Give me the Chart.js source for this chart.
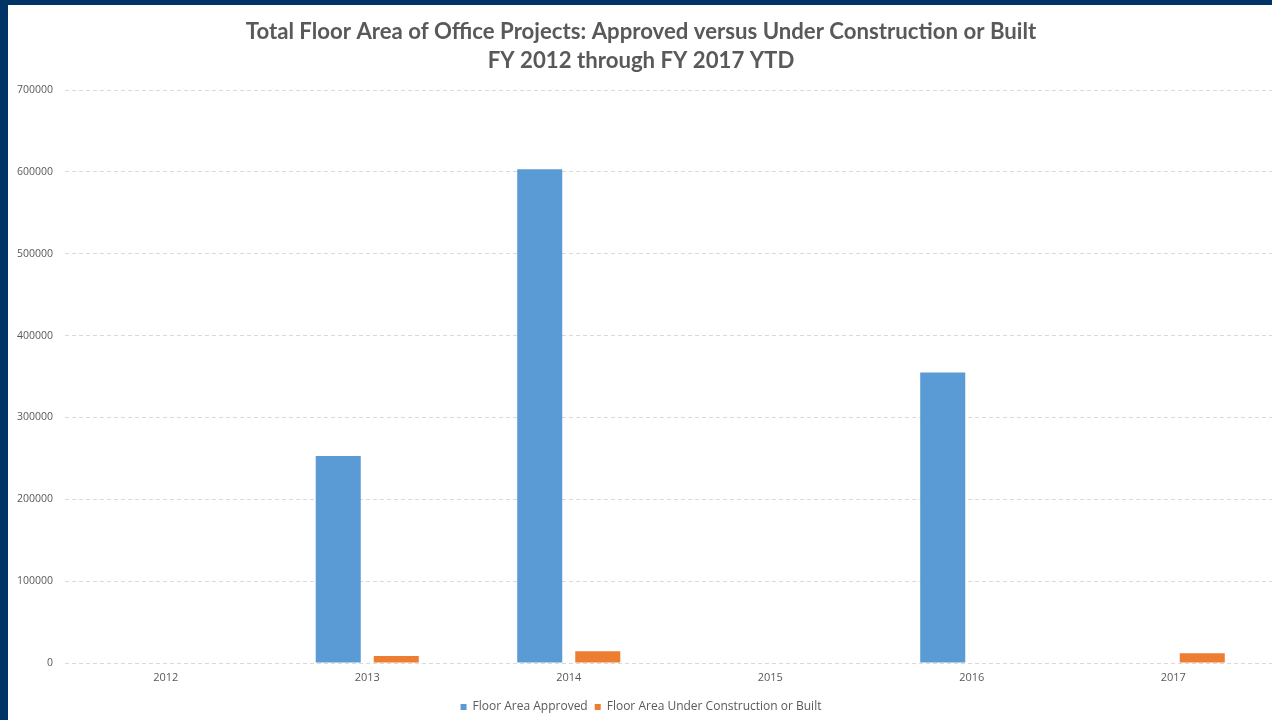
<!DOCTYPE html>
<html>
<head>
<meta charset="utf-8">
<script src="https://cdn.jsdelivr.net/npm/chart.js@4"></script>
<style>
html,body{margin:0;padding:0;width:1272px;height:720px;overflow:hidden;background:#003366;}
#wrap{position:absolute;left:8px;top:5px;width:1266px;height:715px;background:#fff;}
</style>
</head>
<body>
<div id="wrap"><canvas id="c"></canvas></div>
<script>
const categories = ['2012','2013','2014','2015','2016','2017'];
const approved = [0, 253000, 603500, 0, 355000, 0];
const underConstruction = [0, 8500, 14500, 0, 0, 12000];
const titleLines = ['Total Floor Area of Office Projects: Approved versus Under Construction or Built','FY 2012 through FY 2017 YTD'];
const seriesNames = ['Floor Area Approved','Floor Area Under Construction or Built'];

const grey = '#595959';
new Chart(document.getElementById('c'), {
  type: 'bar',
  data: {
    labels: categories,
    datasets: [
      {label: seriesNames[0], data: approved, backgroundColor: '#5b9bd5', barPercentage: 0.776, categoryPercentage: 0.576},
      {label: seriesNames[1], data: underConstruction, backgroundColor: '#ed7d31', barPercentage: 0.776, categoryPercentage: 0.576}
    ]
  },
  options: {
    responsive: true,
    maintainAspectRatio: false,
    animation: false,
    layout: {padding: {left: 0, right: 0, top: 0, bottom: -3}},
    plugins: {
      title: {display: true, text: titleLines, color: grey, font: {family: 'Lato', size: 22.2, weight: 'bold', lineHeight: 1.31}, padding: {top: 12.5, bottom: 14.5}},
      legend: {position: 'bottom', labels: {color: grey, boxWidth: 6, boxHeight: 6, padding: 7, font: {family: 'Open Sans', size: 12}}},
      tooltip: {enabled: false}
    },
    scales: {
      x: {
        afterFit: s => { s.height = 31; },
        grid: {display: false, drawTicks: false},
        border: {display: false},
        ticks: {color: grey, padding: 8, font: {family: 'Open Sans', size: 11}}
      },
      y: {
        min: 0, max: 700000,
        afterFit: s => { s.width = 57; },
        grid: {color: '#d9d9d9', drawTicks: false},
        border: {display: false, dash: [4,3]},
        ticks: {stepSize: 100000, color: grey, padding: 12, font: {family: 'Open Sans', size: 10.5}, callback: v => String(v)}
      }
    }
  }
});
</script>
</body>
</html>
